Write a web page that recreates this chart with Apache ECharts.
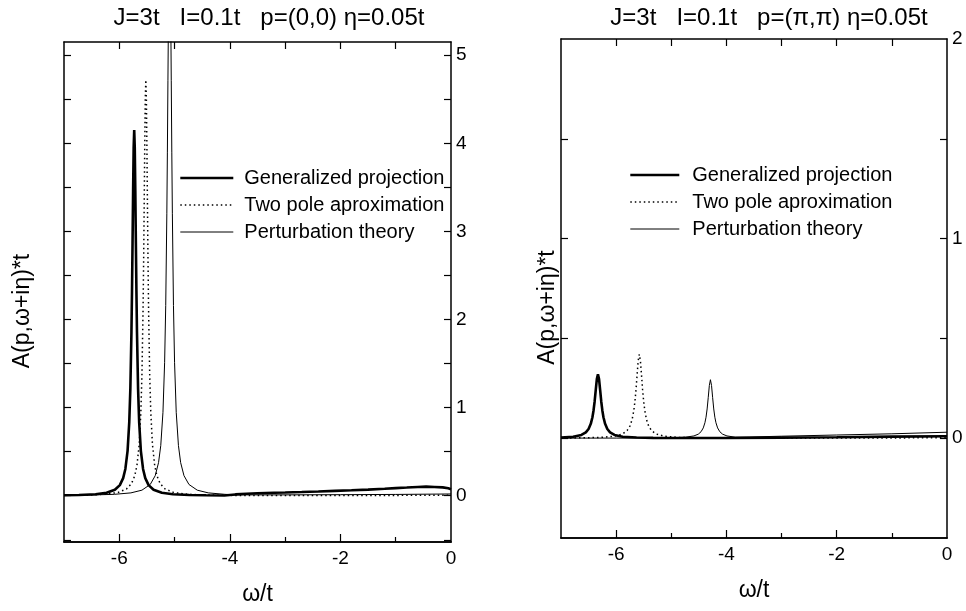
<!DOCTYPE html>
<html><head><meta charset="utf-8">
<script src="https://cdn.jsdelivr.net/npm/echarts@6/dist/echarts.min.js"></script>
<style>html,body{margin:0;padding:0;background:#fff}#c{width:966px;height:611px}</style>
</head><body><div id="c"></div>
<script>
// ---------- texts ----------
const titleLeft = 'J=3t   I=0.1t   p=(0,0) η=0.05t';
const titleRight = 'J=3t   I=0.1t   p=(π,π) η=0.05t';
const seriesNames = ['Generalized projection', 'Two pole aproximation', 'Perturbation theory'];
const xName = 'ω/t';
const yName = 'A(p,ω+iη)*t';

// ---------- ticks / labels ----------
const xRange = [-7, 0];
const xLabelValues = [-6, -4, -2, 0];
const xMajorTicks = [-6, -4, -2];
const xMinorTicks = [-5, -3, -1];
const xTopTicks = [-6, -5, -4, -3, -2, -1];
const yRangeLeft = [-0.525, 5.15];
const yTicksLeft = [-0.5, 0, 0.5, 1, 1.5, 2, 2.5, 3, 3.5, 4, 4.5, 5];
const yLabelsLeft = [0, 1, 2, 3, 4, 5];
const yRangeRight = [-0.5, 2];
const yTicksRight = [0, 0.5, 1, 1.5];
const yLabelsRight = [0, 1, 2];

// ---------- data: p=(0,0) panel, [omega/t, A*t] ----------
const gpLeft = [[-7.0,0.005],[-6.73,0.0084],[-6.43,0.0171],[-6.23,0.0333],[-6.08,0.0675],[-5.99,0.121],[-5.93,0.2],[-5.89,0.304],[-5.85,0.51],[-5.82,0.83],[-5.80,1.21],[-5.78,1.86],[-5.77,2.32],[-5.76,2.87],[-5.75,3.46],[-5.74,3.95],[-5.73,4.15],[-5.72,3.95],[-5.71,3.46],[-5.70,2.87],[-5.69,2.32],[-5.68,1.86],[-5.66,1.21],[-5.64,0.83],[-5.61,0.51],[-5.57,0.304],[-5.53,0.2],[-5.47,0.121],[-5.38,0.0675],[-5.23,0.0333],[-5.03,0.0171],[-4.73,0.0084],[-4.43,0.005],[-4.1,0.003],[-3.9,0.015],[-3.7,0.022],[-3.5,0.028],[-3.2,0.034],[-3.0,0.037],[-2.7,0.042],[-2.4,0.048],[-2.1,0.055],[-1.8,0.062],[-1.5,0.07],[-1.2,0.08],[-1.0,0.087],[-0.8,0.093],[-0.6,0.1],[-0.45,0.103],[-0.3,0.1],[-0.15,0.095],[-0.05,0.085],[0,0.075]];
const tpLeft = [[-7.0,0.0044],[-6.52,0.0095],[-6.22,0.0195],[-6.02,0.0379],[-5.87,0.0768],[-5.78,0.137],[-5.72,0.227],[-5.68,0.346],[-5.64,0.582],[-5.61,0.944],[-5.59,1.38],[-5.57,2.11],[-5.56,2.64],[-5.55,3.27],[-5.54,3.94],[-5.53,4.5],[-5.52,4.72],[-5.51,4.5],[-5.50,3.94],[-5.49,3.27],[-5.48,2.64],[-5.47,2.11],[-5.45,1.38],[-5.43,0.944],[-5.40,0.582],[-5.36,0.346],[-5.32,0.227],[-5.26,0.137],[-5.17,0.0768],[-5.02,0.0379],[-4.82,0.0195],[-4.52,0.0095],[-4.04,0.0044],[-3.5,0.003],[-2,0.003],[-1,0.004],[0,0.006]];
const ptLeft = [[-7.0,0.0044],[-6.59,0.0071],[-6.09,0.016],[-5.79,0.0325],[-5.59,0.0634],[-5.44,0.128],[-5.35,0.228],[-5.29,0.376],[-5.25,0.569],[-5.21,0.947],[-5.18,1.51],[-5.16,2.16],[-5.14,3.2],[-5.13,3.9],[-5.12,4.71],[-5.11,5.52],[-5.10,6.15],[-5.09,6.4],[-5.08,6.15],[-5.07,5.52],[-5.06,4.71],[-5.05,3.9],[-5.04,3.2],[-5.02,2.16],[-5.00,1.51],[-4.97,0.947],[-4.93,0.569],[-4.89,0.376],[-4.83,0.228],[-4.74,0.128],[-4.59,0.0634],[-4.39,0.0325],[-4.09,0.016],[-3.9,0.01],[-3,0.01],[-2,0.012],[-1,0.015],[0,0.02]];

// ---------- data: p=(pi,pi) panel ----------
const gpRight = [[-7.0,0.003],[-6.78,0.0076],[-6.63,0.0165],[-6.55,0.029],[-6.5,0.046],[-6.46,0.072],[-6.43,0.105],[-6.41,0.139],[-6.39,0.184],[-6.37,0.241],[-6.35,0.296],[-6.33,0.32],[-6.31,0.296],[-6.29,0.241],[-6.27,0.184],[-6.25,0.139],[-6.23,0.105],[-6.20,0.072],[-6.16,0.046],[-6.11,0.029],[-6.03,0.0165],[-5.88,0.0076],[-5.63,0.0032],[-5.33,0.0016],[-4.5,0.001],[-4.0,0.001],[-3,0.003],[-2,0.005],[-1,0.008],[0,0.01]];
const tpRight = [[-7.0,0.001],[-6.58,0.002],[-6.28,0.0042],[-6.03,0.0099],[-5.88,0.0217],[-5.80,0.039],[-5.75,0.061],[-5.71,0.094],[-5.68,0.138],[-5.66,0.182],[-5.64,0.242],[-5.62,0.317],[-5.60,0.388],[-5.58,0.42],[-5.56,0.388],[-5.54,0.317],[-5.52,0.242],[-5.50,0.182],[-5.48,0.138],[-5.45,0.094],[-5.41,0.061],[-5.36,0.039],[-5.28,0.0217],[-5.13,0.0099],[-4.88,0.0042],[-4.58,0.002],[-4,0.001],[-2,0.001],[0,0.002]];
const ptRight = [[-7,0.0004],[-6,0.0006],[-5.2,0.0013],[-4.99,0.0021],[-4.74,0.0051],[-4.59,0.0113],[-4.51,0.0203],[-4.46,0.0325],[-4.42,0.0515],[-4.39,0.0776],[-4.37,0.105],[-4.35,0.1465],[-4.33,0.203],[-4.31,0.264],[-4.29,0.293],[-4.27,0.264],[-4.25,0.203],[-4.23,0.1465],[-4.21,0.105],[-4.19,0.0776],[-4.16,0.0515],[-4.12,0.0325],[-4.07,0.0203],[-3.99,0.0113],[-3.84,0.0051],[-3.59,0.006],[-3,0.01],[-2,0.016],[-1,0.022],[0,0.03]];

// ---------- build ----------
const FONT = '"Liberation Sans", Arial, sans-serif';
const BLACK = '#000';
const axisLine = {show: true, onZero: false, lineStyle: {color: BLACK, width: 1.5}};

function xAxes(grid) {
  return [
    {gridIndex: grid, type: 'value', position: 'bottom', min: xRange[0], max: xRange[1],
     axisLine, splitLine: {show: false},
     axisTick: {show: true, inside: true, length: 8, customValues: xMajorTicks, lineStyle: {color: BLACK, width: 1.2}},
     axisLabel: {show: true, customValues: xLabelValues, margin: 7, color: BLACK, fontSize: 19, fontFamily: FONT},
     name: xName, nameLocation: 'middle', nameGap: 41,
     nameTextStyle: {color: BLACK, fontSize: 23, fontFamily: FONT}},
    {gridIndex: grid, type: 'value', position: 'bottom', min: xRange[0], max: xRange[1],
     axisLine, splitLine: {show: false},
     axisTick: {show: true, inside: true, length: 5, customValues: xMinorTicks, lineStyle: {color: BLACK, width: 1.2}},
     axisLabel: {show: false}},
    {gridIndex: grid, type: 'value', position: 'top', min: xRange[0], max: xRange[1],
     axisLine, splitLine: {show: false},
     axisTick: {show: true, inside: true, length: 7, customValues: xTopTicks, lineStyle: {color: BLACK, width: 1.2}},
     axisLabel: {show: false}}
  ];
}
function yAxes(grid, range, ticks, labels, nameGap) {
  return [
    {gridIndex: grid, type: 'value', position: 'left', min: range[0], max: range[1],
     axisLine, splitLine: {show: false},
     axisTick: {show: true, inside: true, length: 7, customValues: ticks, lineStyle: {color: BLACK, width: 1.2}},
     axisLabel: {show: false},
     name: yName, nameLocation: 'middle', nameGap: nameGap,
     nameTextStyle: {color: BLACK, fontSize: 23, fontFamily: FONT, padding: [0, 38, 0, 0]}},
    {gridIndex: grid, type: 'value', position: 'right', min: range[0], max: range[1],
     axisLine, splitLine: {show: false},
     axisTick: {show: true, inside: true, length: 7, customValues: ticks, lineStyle: {color: BLACK, width: 1.2}},
     axisLabel: {show: true, customValues: labels, margin: 5, color: BLACK, fontSize: 19, fontFamily: FONT}}
  ];
}
const styles = [
  {width: 2.6, type: 'solid'},
  {width: 1.5, type: [1.5, 3]},
  {width: 1, type: 'solid'}
];
function mkSeries(data, i, xi, yi) {
  return {type: 'line', name: seriesNames[i], data: data, xAxisIndex: xi, yAxisIndex: yi,
          symbol: 'none', showSymbol: false, smooth: false, clip: true,
          lineStyle: Object.assign({color: BLACK}, styles[i]), itemStyle: {color: BLACK}, z: 3 - i};
}
const legendData = seriesNames.map((n, i) => ({name: n,
  lineStyle: {color: BLACK, width: styles[i].width, type: styles[i].type},
  itemStyle: {opacity: 0}}));
const legendCommon = {orient: 'vertical', selectedMode: false, data: legendData, padding: 0,
  itemHeight: 14, itemGap: 7, itemStyle: {opacity: 0},
  textStyle: {color: BLACK, fontSize: 20, fontFamily: FONT, lineHeight: 20, padding: [0, 0, 0, 6]}};

const option = {
  animation: false,
  backgroundColor: '#fff',
  title: [
    {text: titleLeft, left: 264, top: 1, textAlign: 'center',
     textStyle: {color: BLACK, fontWeight: 'normal', fontSize: 24, fontFamily: FONT}},
    {text: titleRight, left: 764, top: 1, textAlign: 'center',
     textStyle: {color: BLACK, fontWeight: 'normal', fontSize: 24, fontFamily: FONT}}
  ],
  legend: [
    Object.assign({}, legendCommon, {left: 179, top: 168, itemWidth: 53}),
    Object.assign({}, legendCommon, {left: 629, top: 165, itemWidth: 49,
      textStyle: Object.assign({}, legendCommon.textStyle, {padding: [0, 0, 0, 8]})})
  ],
  grid: [
    {left: 64, top: 42, width: 387, height: 500},
    {left: 561, top: 39, width: 386, height: 499}
  ],
  xAxis: [].concat(xAxes(0), xAxes(1)),
  yAxis: [].concat(yAxes(0, yRangeLeft, yTicksLeft, yLabelsLeft, 30), yAxes(1, yRangeRight, yTicksRight, yLabelsRight, 2)),
  series: [
    mkSeries(gpLeft, 0, 0, 0), mkSeries(tpLeft, 1, 0, 0), mkSeries(ptLeft, 2, 0, 0),
    mkSeries(gpRight, 0, 3, 2), mkSeries(tpRight, 1, 3, 2), mkSeries(ptRight, 2, 3, 2)
  ]
};
const chart = echarts.init(document.getElementById('c'), null, {renderer: 'canvas'});
chart.setOption(option);
</script>
</body></html>
